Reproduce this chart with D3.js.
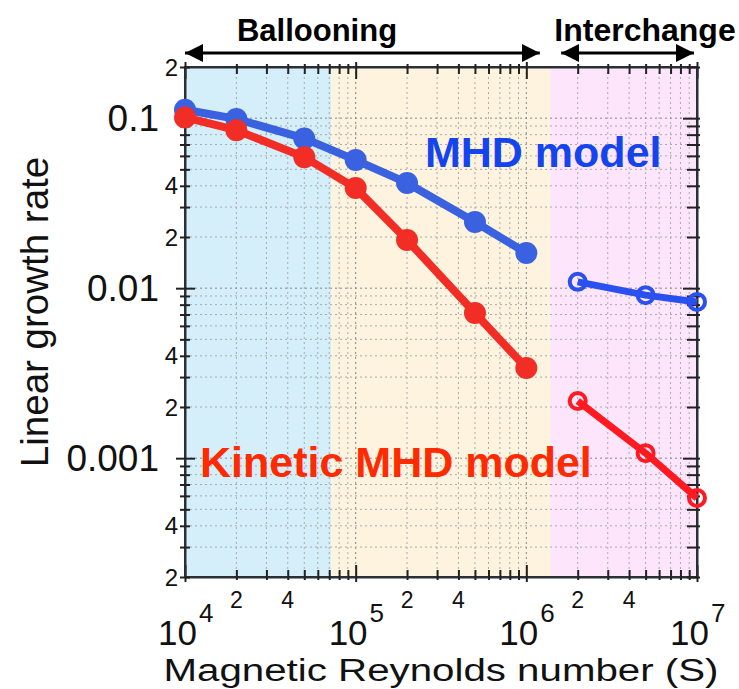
<!DOCTYPE html>
<html>
<head>
<meta charset="utf-8">
<script src="https://cdn.jsdelivr.net/npm/d3@7"></script>
<style>
  body { margin: 0; background: #fff; }
  text { font-family: "Liberation Sans", Arial, Helvetica, sans-serif; }
</style>
</head>
<body>
<script>
// data
var sFilled = [1e4, 2e4, 5e4, 1e5, 2e5, 5e5, 1e6];
var mhdFilled = [0.112, 0.099, 0.076, 0.0567, 0.0416, 0.0245, 0.0161];
var kinFilled = [0.101, 0.085, 0.059, 0.0388, 0.0192, 0.00714, 0.00339];
var sOpen = [2e6, 5e6, 1e7];
var mhdOpen = [0.0109, 0.0091, 0.0083];
var kinOpen = [0.00217, 0.00107, 0.000583];

// shaded regimes
var regionEdges = [1e4, 7.2e4, 1.38e6, 1e7];
var regionColors = ["#d4eefa", "#fdf3df", "#fde6fb"];

// tick labels
var xMajorVals = [1e4, 1e5, 1e6, 1e7];
var xMajorExp = ["4", "5", "6", "7"];
var xMinorVals = [2e4, 4e4, 2e5, 4e5, 2e6, 4e6];
var xMinorText = ["2", "4", "2", "4", "2", "4"];
var yLabelVals = [0.2, 0.1, 0.04, 0.02, 0.01, 0.004, 0.002, 0.001, 0.0004, 0.0002];
var yLabelText = ["2", "0.1", "4", "2", "0.01", "4", "2", "0.001", "4", "2"];

// set the dimensions and margins of the graph
var margin = {top: 67, right: 42, bottom: 112, left: 185},
    width = 739 - margin.left - margin.right,
    height = 689 - margin.top - margin.bottom;

var blue = "#3a62e0", red = "#f22d25";

var x = d3.scaleLog().domain([1e4, 1e7]).range([0, width]);
var y = d3.scaleLog().domain([2e-4, 0.2]).range([height, 0]);

var svg = d3.select("body").append("svg")
    .attr("width", 739)
    .attr("height", 689);

var g = svg.append("g")
    .attr("transform", "translate(" + margin.left + "," + margin.top + ")");

// background bands
g.selectAll(".band")
    .data(regionColors)
  .enter().append("rect")
    .attr("x", function(d, i) { return x(regionEdges[i]); })
    .attr("width", function(d, i) { return x(regionEdges[i + 1]) - x(regionEdges[i]); })
    .attr("y", 0)
    .attr("height", height)
    .attr("fill", function(d) { return d; });

var xTicks = x.ticks();
var yTicks = y.ticks();
var isMajor = function(v) { return Math.abs(Math.log10(v) - Math.round(Math.log10(v))) < 1e-6; };

// dotted grid
g.selectAll(".vgrid")
    .data(xTicks.filter(function(d) { return d > 1e4 && d < 1e7; }))
  .enter().append("line")
    .attr("x1", function(d) { return x(d); })
    .attr("x2", function(d) { return x(d); })
    .attr("y1", 0).attr("y2", height)
    .attr("stroke", function(d) { return isMajor(d) ? "#888" : "#aaa"; })
    .attr("stroke-width", 1)
    .attr("stroke-dasharray", "2,3");

g.selectAll(".hgrid")
    .data(yTicks.filter(function(d) { return d > 2.01e-4 && d < 0.199; }))
  .enter().append("line")
    .attr("y1", function(d) { return y(d); })
    .attr("y2", function(d) { return y(d); })
    .attr("x1", 0).attr("x2", width)
    .attr("stroke", function(d) { return isMajor(d) ? "#888" : "#aaa"; })
    .attr("stroke-width", 1)
    .attr("stroke-dasharray", "2,3");

// frame
g.append("rect")
    .attr("width", width).attr("height", height)
    .attr("fill", "none").attr("stroke", "#2b2f36").attr("stroke-width", 2);

// axes (ticks only, labels added below)
var axisColor = "#222";
var bottomAxis = g.append("g").attr("transform", "translate(0," + height + ")")
    .call(d3.axisBottom(x).tickValues(xTicks).tickFormat("").tickSizeOuter(0));
bottomAxis.selectAll(".tick line")
    .attr("y1", function(d) { return isMajor(d) ? 5 : 3; })
    .attr("y2", function(d) { return isMajor(d) ? -12 : -7; });

var topAxis = g.append("g")
    .call(d3.axisTop(x).tickValues(xTicks).tickFormat("").tickSizeOuter(0));
topAxis.selectAll(".tick line")
    .attr("y1", function(d) { return isMajor(d) ? -5 : -3; })
    .attr("y2", function(d) { return isMajor(d) ? 12 : 7; });

var leftAxis = g.append("g")
    .call(d3.axisLeft(y).tickValues(yTicks).tickFormat("").tickSizeOuter(0));
leftAxis.selectAll(".tick line")
    .attr("x1", function(d) { return isMajor(d) ? 10 : 5; })
    .attr("x2", function(d) { return isMajor(d) ? -9 : -5; });

var rightAxis = g.append("g").attr("transform", "translate(" + width + ",0)")
    .call(d3.axisRight(y).tickValues(yTicks).tickFormat("").tickSizeOuter(0));
rightAxis.selectAll(".tick line")
    .attr("x1", function(d) { return isMajor(d) ? -14 : -10; })
    .attr("x2", 3);

g.selectAll(".domain").attr("stroke", "#2b2f36").attr("stroke-width", 2);
g.selectAll(".tick line").attr("stroke", axisColor).attr("stroke-width", 2);

// y tick labels
g.selectAll(".ylab")
    .data(yLabelVals)
  .enter().append("text")
    .attr("x", function(d, i) { return yLabelText[i].length > 1 ? -26 : -7; })
    .attr("y", function(d) { return y(d); })
    .attr("dy", "0.36em")
    .attr("text-anchor", "end")
    .style("font-size", function(d, i) { return yLabelText[i].length > 1 ? "37px" : "24px"; })
    .style("fill", "#111")
    .text(function(d, i) { return yLabelText[i]; });

// x tick labels
g.selectAll(".xlab")
    .data(xMinorVals)
  .enter().append("text")
    .attr("x", function(d) { return x(d); })
    .attr("y", height + 31)
    .attr("text-anchor", "middle")
    .style("font-size", "23px")
    .style("fill", "#111")
    .text(function(d, i) { return xMinorText[i]; });

// powers of ten, superscript as a tspan
var majorLab = g.selectAll(".xmaj")
    .data(xMajorVals)
  .enter().append("text")
    .attr("x", function(d) { return x(d) - 27; })
    .attr("y", height + 68)
    .style("font-size", "35px")
    .style("fill", "#111");
majorLab.append("tspan").text("10");
majorLab.append("tspan")
    .attr("dx", 2)
    .attr("dy", -23)
    .style("font-size", "26px")
    .text(function(d, i) { return xMajorExp[i]; });

// lines and markers
var line = d3.line()
    .x(function(d) { return x(d[0]); })
    .y(function(d) { return y(d[1]); });

function drawSeries(xs, ys, color, open) {
  var pts = xs.map(function(v, i) { return [v, ys[i]]; });
  g.append("path")
      .datum(pts)
      .attr("d", line)
      .attr("fill", "none")
      .attr("stroke", color)
      .attr("stroke-width", open ? 7 : 8)
      .attr("stroke-linejoin", "round");
  g.selectAll(null)
      .data(pts)
    .enter().append("circle")
      .attr("cx", function(d) { return x(d[0]); })
      .attr("cy", function(d) { return y(d[1]); })
      .attr("r", open ? 8 : 11)
      .attr("fill", open ? "none" : color)
      .attr("stroke", open ? color : "none")
      .attr("stroke-width", 4);
}

drawSeries(sFilled, mhdFilled, blue, false);
drawSeries(sFilled, kinFilled, red, false);
drawSeries(sOpen, mhdOpen, "#2b50f0", true);
drawSeries(sOpen, kinOpen, "#ff1a22", true);

// model labels
svg.append("text")
    .attr("x", 425).attr("y", 167)
    .style("font-size", "43px").style("font-weight", "bold")
    .style("fill", "#1444ee")
    .text("MHD model");
svg.append("text")
    .attr("x", 200).attr("y", 477)
    .style("font-size", "43px").style("font-weight", "bold")
    .style("fill", "#ff2a00")
    .text("Kinetic MHD model");

// regime arrows
var defs = svg.append("defs");
defs.append("marker")
    .attr("id", "ah")
    .attr("viewBox", "0 0 10 10")
    .attr("refX", 10).attr("refY", 5)
    .attr("markerWidth", 6).attr("markerHeight", 6)
    .attr("markerUnits", "strokeWidth")
    .attr("orient", "auto-start-reverse")
  .append("path")
    .attr("d", "M0,0 L10,5 L0,10 Z")
    .attr("fill", "#000");

var arrows = [
  {a: 1e4, b: 1.2e6, label: "Ballooning", cx: 317, size: 31},
  {a: 1.6e6, b: 9.6e6, label: "Interchange", cx: 645, size: 32}
];
arrows.forEach(function(d) {
  svg.append("line")
      .attr("x1", margin.left + x(d.a)).attr("x2", margin.left + x(d.b))
      .attr("y1", 53).attr("y2", 53)
      .attr("stroke", "#000").attr("stroke-width", 3)
      .attr("marker-start", "url(#ah)")
      .attr("marker-end", "url(#ah)");
  svg.append("text")
      .attr("x", d.cx).attr("y", 41)
      .attr("text-anchor", "middle")
      .style("font-size", d.size + "px").style("font-weight", "bold")
      .text(d.label);
});

// axis titles
svg.append("text")
    .attr("x", 441).attr("y", 681)
    .attr("text-anchor", "middle")
    .attr("textLength", 555)
    .attr("lengthAdjust", "spacingAndGlyphs")
    .style("font-size", "31px")
    .style("fill", "#111")
    .text("Magnetic Reynolds number (S)");

svg.append("text")
    .attr("transform", "translate(48,312) rotate(-90)")
    .attr("text-anchor", "middle")
    .style("font-size", "38.5px")
    .style("fill", "#111")
    .text("Linear growth rate");
</script>
</body>
</html>
